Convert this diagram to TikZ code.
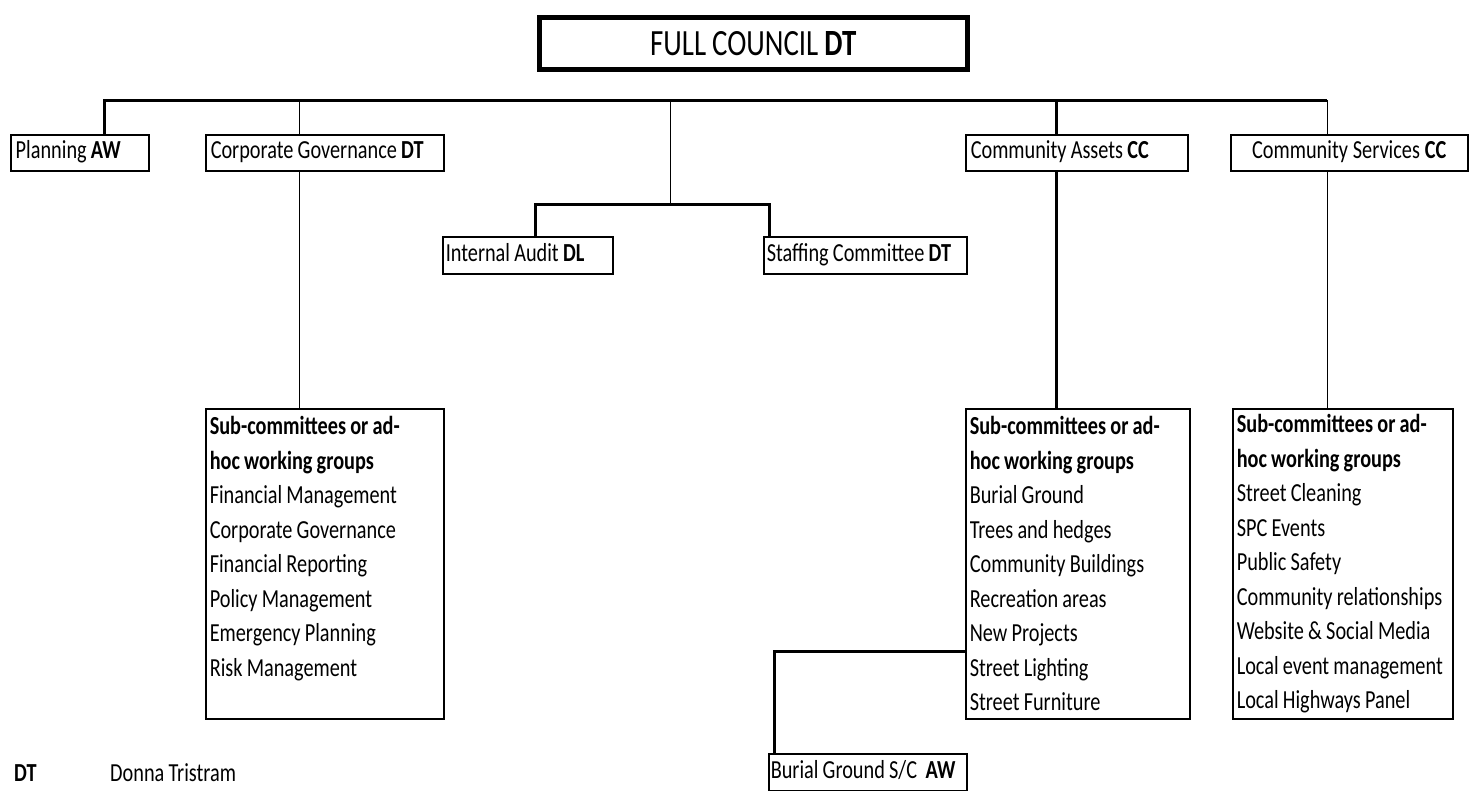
\documentclass[tikz,border=0pt]{standalone}
\usepackage{fontspec}
\setmainfont{Carlito}[FakeStretch=0.78, WordSpace=0.92]
\usetikzlibrary{positioning}
\newcommand\orgfont{\fontsize{26}{34.5}\selectfont\hyphenpenalty=10000}

\begin{document}
\begin{tikzpicture}[x=1pt, y=-1pt, font=\orgfont,
  execute at begin node={\spaceskip=0pt\xspaceskip=0pt},
  unit/.style={draw, line width=1.5pt, anchor=north west, align=left,
    inner xsep=5pt, inner ysep=0pt, minimum height=36pt,
    text height=17pt, text depth=5pt},
  panel/.style={draw, line width=1.5pt, anchor=north west, align=left,
    inner xsep=4pt, inner ysep=0pt, minimum height=310pt},
  heavy/.style={line width=3pt},
  light/.style={line width=1pt}]
  \useasboundingbox (0,0) rectangle (1474,790);

  \node[draw, line width=4.5pt, minimum width=428pt, minimum height=52pt,
    anchor=north west, font=\fontsize{37}{40}\selectfont] (council) at (537,15)
    {FULL COUNCIL \textbf{DT}};

  \node[unit, text width=128pt] (plan) at (10,134) {Planning \textbf{AW}};
  \node[unit, text width=228pt] (corp) at (205,134) {Corporate Governance \textbf{DT}};
  \node[unit, text width=212pt] (asset) at (965,134) {Community Assets \textbf{CC}};
  \node[unit, text width=227pt, align=center] (serv) at (1230,134) {Community Services \textbf{CC}};
  \node[unit, text width=164pt, inner xsep=3pt, minimum height=37pt] (audit) at (442,236) {Internal Audit \textbf{DL}};
  \node[unit, text width=197pt, inner xsep=3pt, minimum height=37pt] (staff) at (763,236) {Staffing Committee \textbf{DT}};

  \node[panel, text width=230pt] (corpsub) at (205,408)
    {\textbf{Sub-committees or ad-}\\\textbf{hoc working groups}\\Financial Management\\
     Corporate Governance\\Financial Reporting\\Policy Management\\
     Emergency Planning\\Risk Management\\~};
  \node[panel, text width=216pt] (assetsub) at (965,408)
    {\textbf{Sub-committees or ad-}\\\textbf{hoc working groups}\\Burial Ground\\
     Trees and hedges\\Community Buildings\\Recreation areas\\New Projects\\
     Street Lighting\\Street Furniture};
  \node[panel, text width=212pt] (servsub) at (1232,408)
    {\textbf{Sub-committees or ad-}\\\textbf{hoc working groups}\\Street Cleaning\\
     SPC Events\\Public Safety\\Community relationships\\Website \& Social Media\\
     Local event management\\Local Highways Panel};

  \node[unit, text width=194pt, inner xsep=2pt, minimum height=37pt] (burial) at (768,753) {Burial Ground S/C\ \ \textbf{AW}};

  \node[anchor=west, inner sep=0pt] (dtkey) at (14,773) {\textbf{DT}};
  \node[anchor=west, inner sep=0pt] (dtname) at (110,773) {Donna Tristram};

  \coordinate (bus) at (0,100);
  \coordinate (split) at (670,204);
  \draw[heavy] ([xshift=25pt]plan.north) |- ([xshift=-22pt]serv.north |- bus);
  \draw[light] ([xshift=-25pt]corp.north) -- ([xshift=-25pt]corp.north |- bus);
  \draw[light] (split) -- (split |- bus);
  \draw[heavy] ([xshift=-20pt]asset.north) -- ([xshift=-20pt]asset.north |- bus);
  \draw[light] ([xshift=-22pt]serv.north) -- ([xshift=-22pt]serv.north |- bus);
  \draw[heavy] ([xshift=8pt]audit.north) |- (split) -| ([xshift=6pt]staff.north west);

  \draw[light] ([xshift=-25pt]corp.south) -- ([xshift=-25pt]corp.south |- corpsub.north);
  \draw[heavy] ([xshift=-20pt]asset.south) -- ([xshift=-20pt]asset.south |- assetsub.north);
  \draw[light] ([xshift=-22pt]serv.south) -- ([xshift=-22pt]serv.south |- servsub.north);
  \draw[heavy] ([yshift=-243pt]assetsub.north west) -| ([xshift=6pt]burial.north west);
\end{tikzpicture}
\end{document}
